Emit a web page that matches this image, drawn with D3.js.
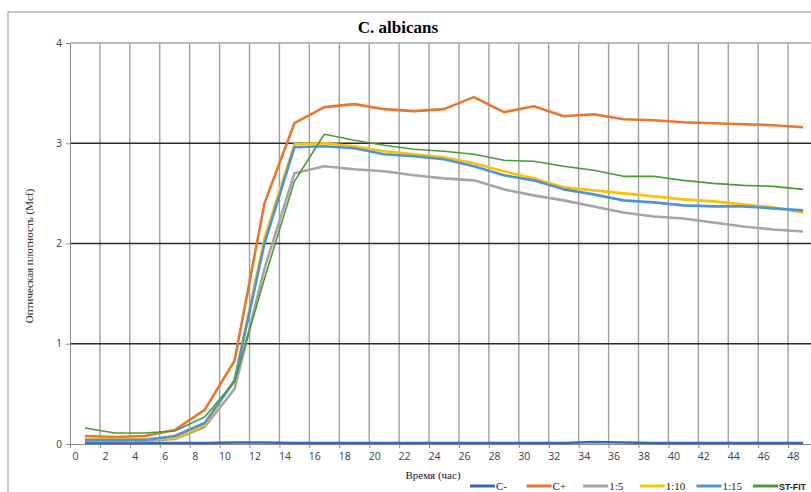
<!DOCTYPE html>
<html>
  <head>
    <meta charset="utf-8" />
    <title>C. albicans</title>
    <script src="https://d3js.org/d3.v7.min.js"></script>
    <style>
      body {
        margin: 0;
        background-color: white;
      }
    </style>
  </head>
  <body>
    <svg id="chart">
      <g id="grid"></g>
      <g id="x"></g>
      <g id="y"></g>
      <g id="lines"></g>
      <g id="legend"></g>
    </svg>

    <script>

      // hours of measurement
      var hours = [1, 3, 5, 7, 9, 11, 13, 15, 17, 19, 21, 23, 25, 27, 29, 31, 33, 35, 37, 39, 41, 43, 45, 47, 49];

      var seriesNames = ["C-", "C+", "1:5", "1:10", "1:15", "ST-FIT"];

      var cMinus = [0.01, 0.01, 0.01, 0.01, 0.01, 0.015, 0.015, 0.01, 0.01, 0.01, 0.01, 0.01, 0.01, 0.01, 0.01, 0.01, 0.01, 0.02, 0.015, 0.01, 0.01, 0.01, 0.01, 0.01, 0.01];
      var cPlus = [0.08, 0.07, 0.08, 0.14, 0.34, 0.83, 2.40, 3.20, 3.36, 3.39, 3.34, 3.32, 3.34, 3.46, 3.31, 3.37, 3.27, 3.29, 3.24, 3.23, 3.21, 3.20, 3.19, 3.18, 3.16];
      var dil5 = [0.03, 0.03, 0.03, 0.05, 0.17, 0.55, 1.75, 2.70, 2.77, 2.74, 2.72, 2.68, 2.65, 2.63, 2.54, 2.48, 2.43, 2.37, 2.31, 2.27, 2.25, 2.21, 2.17, 2.14, 2.12];
      var dil10 = [0.05, 0.05, 0.05, 0.06, 0.19, 0.64, 2.05, 2.99, 3.00, 2.97, 2.92, 2.89, 2.86, 2.80, 2.72, 2.65, 2.56, 2.53, 2.50, 2.47, 2.44, 2.42, 2.39, 2.36, 2.31];
      var dil15 = [0.04, 0.04, 0.04, 0.08, 0.21, 0.63, 2.00, 2.96, 2.97, 2.95, 2.89, 2.87, 2.84, 2.77, 2.68, 2.63, 2.54, 2.49, 2.43, 2.41, 2.38, 2.37, 2.37, 2.35, 2.33];
      var stFit = [0.16, 0.11, 0.11, 0.13, 0.27, 0.62, 1.65, 2.62, 3.09, 3.03, 2.98, 2.94, 2.92, 2.89, 2.83, 2.82, 2.77, 2.73, 2.67, 2.67, 2.63, 2.60, 2.58, 2.57, 2.54];

      var xTicks = d3.range(0, 50, 2);
      var yTicks = [0, 1, 2, 3, 4];

      var colors = ["#3a66bd", "#e8762d", "#a5a5a5", "#ffc000", "#4f94d4", "#4a9c3a"];
      var widths = [2.6, 2.6, 2.6, 2.6, 2.6, 1.6];

      var seriesValues = [cMinus, cPlus, dil5, dil10, dil15, stFit];

      var width = 811;
      var height = 492;

      var svg = d3.select("#chart")
        .attr("width", width)
        .attr("height", height);

      // outer chart frame
      svg.insert("rect", ":first-child")
        .attr("x", 8)
        .attr("y", 12)
        .attr("width", 820)
        .attr("height", 500)
        .attr("fill", "white")
        .attr("stroke", "#a6a6a6")
        .attr("stroke-width", 1.2);

      var x = d3.scaleLinear()
        .domain([0, 50])
        .range([70, 818]);

      var y = d3.scaleLinear()
        .domain([0, 4])
        .range([444, 43]);

      var grid = svg.select("#grid");

      // vertical gridlines
      grid.selectAll(".vgrid")
        .data(xTicks.filter(function(d) { return d > 0; }))
        .enter().append("line")
        .attr("class", "vgrid")
        .attr("x1", function(d) { return x(d); })
        .attr("x2", function(d) { return x(d); })
        .attr("y1", y(4))
        .attr("y2", y(0))
        .attr("stroke", "#a0a0a0")
        .attr("stroke-width", 1.4);

      // horizontal gridlines
      grid.selectAll(".hgrid")
        .data(yTicks.filter(function(d) { return d > 0; }))
        .enter().append("line")
        .attr("class", "hgrid")
        .attr("x1", x(0))
        .attr("x2", width)
        .attr("y1", function(d) { return y(d); })
        .attr("y2", function(d) { return y(d); })
        .attr("stroke", function(d) { return d === 4 ? "#a8a8a8" : "#2b2b2b"; })
        .attr("stroke-width", function(d) { return d === 4 ? 1.4 : 1.3; });

      var xAxis = d3.axisBottom(x)
        .tickValues(xTicks)
        .tickSize(4)
        .tickSizeOuter(0);

      svg.select("#x")
        .attr("transform", "translate(0," + y(0) + ")")
        .call(xAxis);

      svg.select("#x").select(".domain")
        .attr("d", "M" + x(0) + ",0.5H" + width)
        .attr("stroke", "#8c8c8c");

      svg.select("#x").selectAll(".tick line")
        .attr("stroke", "#8c8c8c");

      svg.select("#x").selectAll("text")
        .attr("dx", 5)
        .attr("y", 9)
        .attr("font-size", "10.5px")
        .attr("font-family", "Open Sans, sans-serif")
        .attr("fill", "#404040");

      var yAxis = d3.axisLeft(y)
        .tickValues(yTicks)
        .tickFormat(d3.format("d"))
        .tickSize(4)
        .tickSizeOuter(0);

      svg.select("#y")
        .attr("transform", "translate(" + x(0) + ",0)")
        .call(yAxis);

      svg.select("#y").select(".domain")
        .attr("stroke", "#8c8c8c");

      svg.select("#y").selectAll(".tick line")
        .attr("stroke", "#8c8c8c");

      svg.select("#y").selectAll("text")
        .attr("x", -8)
        .attr("font-size", "10px")
        .attr("font-family", "Open Sans, sans-serif")
        .attr("fill", "#404040");

      // the lines
      var line = d3.line()
        .x(function(d, i) { return x(hours[i]); })
        .y(function(d) { return y(d); });

      svg.select("#lines").selectAll(".series")
        .data(seriesValues)
        .enter().append("path")
        .attr("class", "series")
        .attr("d", function(d) { return line(d); })
        .attr("fill", "none")
        .attr("stroke", function(d, i) { return colors[i]; })
        .attr("stroke-width", function(d, i) { return widths[i]; })
        .attr("stroke-linejoin", "round");

      // titles
      svg.append("text")
        .attr("x", 398)
        .attr("y", 33)
        .attr("text-anchor", "middle")
        .attr("font-family", "Liberation Serif, serif")
        .attr("font-weight", "bold")
        .attr("font-size", "17px")
        .attr("fill", "#000")
        .text("C. albicans");

      svg.append("text")
        .attr("transform", "translate(33,256) rotate(-90)")
        .attr("text-anchor", "middle")
        .attr("font-family", "Liberation Serif, serif")
        .attr("font-size", "11px")
        .attr("fill", "#222")
        .text("Оптическая плотность (Мсf)");

      svg.append("text")
        .attr("x", 433)
        .attr("y", 479)
        .attr("text-anchor", "middle")
        .attr("font-family", "Liberation Serif, serif")
        .attr("font-size", "11px")
        .attr("fill", "#222")
        .text("Время (час)");

      // legend
      var legend = svg.select("#legend").selectAll(".item")
        .data(seriesNames)
        .enter().append("g")
        .attr("class", "item")
        .attr("transform", function(d, i) {
          return "translate(" + (470 + i * 56.6) + ",486)";
        });

      legend.append("line")
        .attr("x1", 0)
        .attr("x2", 25)
        .attr("stroke", function(d, i) { return colors[i]; })
        .attr("stroke-width", 3);

      legend.append("text")
        .attr("x", 26)
        .attr("y", 4)
        .attr("font-family", function(d) {
          return d === "ST-FIT" ? "Liberation Sans, sans-serif" : "Liberation Serif, serif";
        })
        .attr("font-weight", function(d) { return d === "ST-FIT" ? "bold" : "normal"; })
        .attr("font-size", function(d) { return d === "ST-FIT" ? "9.5px" : "11px"; })
        .attr("textLength", function(d) { return d === "ST-FIT" ? 27 : null; })
        .attr("lengthAdjust", "spacingAndGlyphs")
        .attr("fill", "#222")
        .text(function(d) { return d; });

    </script>
  </body>
</html>
